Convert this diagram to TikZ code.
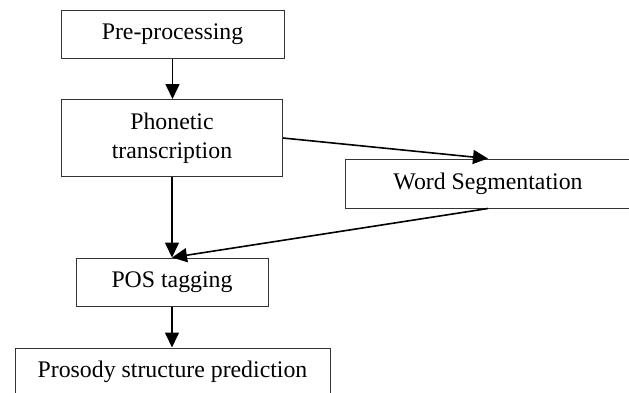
\documentclass[tikz,border=0pt]{standalone}
\usepackage{fontspec}
\setmainfont{Liberation Serif}
\usetikzlibrary{arrows.meta}
\begin{document}
\begin{tikzpicture}[x=1pt,y=-1pt,
  box/.style={draw=black!80,line width=1pt,inner sep=0pt,align=center,
    font=\fontsize{23.8}{29}\selectfont},
  conn/.style={line width=1.6pt,-{Triangle[length=15pt,width=14pt]}}]
\useasboundingbox (0,0) rectangle (629,392);
\node[box,minimum width=223pt,minimum height=48pt] (pre) at (172.5,34) {Pre-processing};
\node[box,minimum width=221pt,minimum height=77pt] (pho) at (172,138) {Phonetic\\transcription};
\node[box,minimum width=286pt,minimum height=49pt] (ws) at (488,183.5) {Word Segmentation};
\node[box,minimum width=192pt,minimum height=48pt] (pos) at (172,282) {POS tagging};
\node[box,minimum width=315pt,minimum height=48pt] (pro) at (172.5,372) {Prosody structure prediction};
\draw[conn] (pre.south) -- (pre.south |- pho.north);
\draw[conn] (pho.south) -- (pos.north);
\draw[conn] (pho.east) -- (ws.north);
\draw[conn] (ws.south) -- (pos.north);
\draw[conn] (pos.south) -- (pos.south |- pro.north);
\end{tikzpicture}
\end{document}
